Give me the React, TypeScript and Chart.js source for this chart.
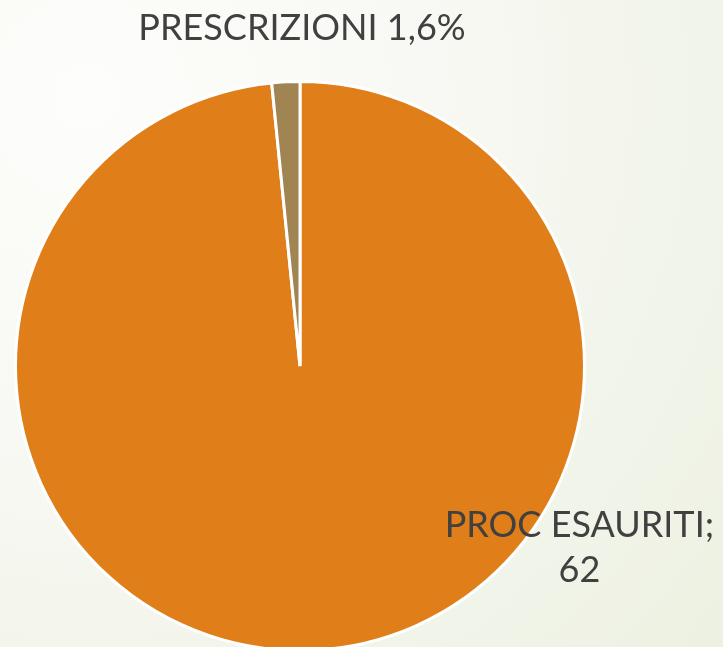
import React, { useEffect, useRef } from "react";
import { Chart, registerables } from "chart.js";

Chart.register(...registerables);

const categories = ["PROC ESAURITI", "PRESCRIZIONI"];
const values = [62, 1];
const colors = ["#E07E19", "#A08552"];

const labelPlugin = {
  id: "customLabels",
  afterDatasetsDraw(chart: any) {
    const meta = chart.getDatasetMeta(0);
    const arc = meta.data[0];
    if (!arc) return;
    const { x: cx, y: cy, outerRadius: r } = arc.getProps(["x", "y", "outerRadius"], true);
    const ctx = chart.ctx;
    const total = values.reduce((a, b) => a + b, 0);
    ctx.save();
    ctx.fillStyle = "#404040";
    ctx.textAlign = "center";
    ctx.textBaseline = "middle";
    ctx.font = "36px Lato";
    const pct = ((values[1] / total) * 100).toFixed(1).replace(".", ",");
    ctx.fillText(`${categories[1]} ${pct}%`, cx + 0.007 * r, cy - 1.185 * r);
    ctx.fillText(`${categories[0]};`, cx + 0.982 * r, cy + 0.56 * r);
    ctx.fillText(`${values[0]}`, cx + 0.982 * r, cy + 0.72 * r);
    ctx.restore();
  },
};

export default function App() {
  const ref = useRef<HTMLCanvasElement>(null);
  useEffect(() => {
    document.body.style.margin = "0";
    const chart = new Chart(ref.current!, {
      type: "pie",
      data: {
        labels: categories,
        datasets: [
          {
            data: values,
            backgroundColor: colors,
            borderColor: "#ffffff",
            borderWidth: 3,
          },
        ],
      },
      options: {
        animation: false,
        responsive: false,
        layout: { padding: { left: 14, right: 137, top: 80, bottom: 48 } },
        plugins: { legend: { display: false }, tooltip: { enabled: false } },
      },
      plugins: [labelPlugin],
    });
    return () => chart.destroy();
  }, []);
  return (
    <div
      style={{
        position: "fixed",
        left: 0,
        top: 0,
        width: 723,
        height: 647,
        overflow: "hidden",
        background:
          "radial-gradient(circle at 12% 15%, #fdfdfb 0%, #f8f9f4 40%, #f1f4e9 75%, #edf1e1 100%)",
      }}
    >
      <canvas ref={ref} width={723} height={700} style={{ display: "block" }} />
    </div>
  );
}
